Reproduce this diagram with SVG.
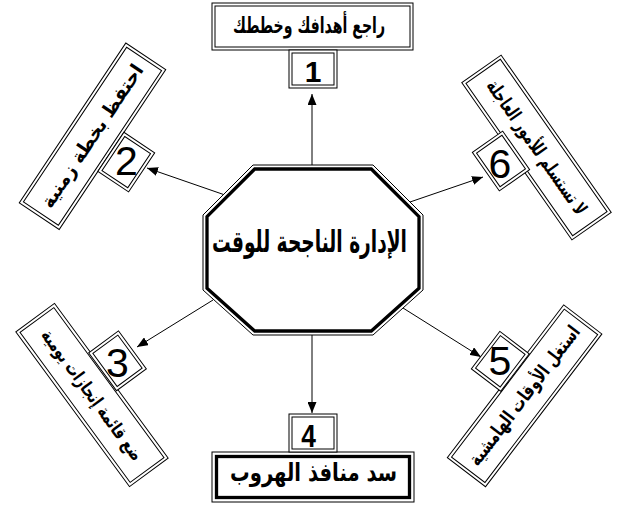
<svg xmlns="http://www.w3.org/2000/svg" width="626" height="522" viewBox="0 0 626 522">
<style>
.b{fill:#fff;stroke:#000;stroke-width:1}
.i{fill:none;stroke:#000;stroke-width:1}
.t{fill:none;stroke:#000;stroke-width:3.3}
.ar{font-family:"DejaVu Sans",sans-serif;font-weight:bold;fill:#000;text-anchor:middle}
.dg{font-family:"Liberation Sans",Arial,sans-serif;fill:#000;text-anchor:middle}
.c line{stroke:#000;stroke-width:1;fill:none}
</style>
<defs>
<marker id="ah" markerWidth="11" markerHeight="9" refX="11" refY="4.5" orient="auto" markerUnits="userSpaceOnUse"><path d="M0,0L11,4.5L0,9z" fill="#000"/></marker>
</defs>
<rect width="626" height="522" fill="#fff"/>
<g id="connectors" class="c">
<line x1="312" y1="165" x2="312" y2="94" marker-end="url(#ah)"/>
<line x1="312" y1="335" x2="312" y2="413" marker-end="url(#ah)"/>
<line x1="225" y1="195" x2="147" y2="168" marker-end="url(#ah)"/>
<line x1="410" y1="202" x2="483" y2="177" marker-end="url(#ah)"/>
<line x1="213" y1="300" x2="137" y2="347" marker-end="url(#ah)"/>
<line x1="403" y1="308" x2="481" y2="357" marker-end="url(#ah)"/>
</g>
<g id="center">
<polygon points="253,165 373,165 423,215 423,290 373,335 253,335 203,290 203,215" class="b"/>
<polygon points="254.7,169 371.3,169 419,216.7 419,288.3 371.3,331 254.7,331 207,288.3 207,216.7" class="t"/>
<text class="ar" x="309.5" y="252" font-size="30" textLength="195" lengthAdjust="spacingAndGlyphs">الإدارة الناجحة للوقت</text>
</g>
<g id="n1">
<rect x="212" y="3" width="201" height="47" class="b"/>
<rect x="215" y="6" width="195" height="41" class="i"/>
<text class="ar" x="309" y="33" font-size="22" textLength="152" lengthAdjust="spacingAndGlyphs">راجع أهدافك وخططك</text>
<rect x="289" y="50" width="48" height="38" class="b"/>
<rect x="292" y="53" width="42" height="32" class="i"/>
<text class="dg" x="313" y="82" font-size="30" font-weight="bold">1</text>
</g>
<g id="n4">
<rect x="212" y="452" width="202" height="50" class="b"/>
<rect x="216.5" y="456.5" width="193" height="41" class="t"/>
<text class="ar" x="313.5" y="481" font-size="25" textLength="167" lengthAdjust="spacingAndGlyphs">سد منافذ الهروب</text>
<rect x="289" y="414" width="48" height="38" class="b"/>
<rect x="292" y="417" width="42" height="32" class="i"/>
<text class="dg" font-size="31" font-weight="bold" transform="translate(308.5,446.7) scale(0.85,1)">4</text>
</g>
<g id="n2">
<g transform="translate(92.5,136.25) rotate(-56.3)">
<rect x="-96" y="-24" width="192" height="48" class="b"/>
<rect x="-93" y="-21" width="186" height="42" class="i"/>
<text class="ar" x="0" y="6" font-size="19" textLength="168" lengthAdjust="spacingAndGlyphs">احتفظ بخطة زمنية</text>
</g>
<g transform="translate(126.25,162.1) rotate(-56.3)">
<rect x="-23.5" y="-18.5" width="47" height="37" class="b"/>
<rect x="-20.5" y="-15.5" width="41" height="31" class="i"/>
</g>
<text class="dg" x="126.5" y="175" font-size="41">2</text>
</g>
<g id="n6">
<g transform="translate(536.5,147.5) rotate(55)">
<rect x="-96" y="-24" width="192" height="48" class="b"/>
<rect x="-93" y="-21" width="186" height="42" class="i"/>
<text class="ar" x="0" y="6" font-size="19" textLength="160" lengthAdjust="spacingAndGlyphs">لا تستسلم للأمور العاجلة</text>
</g>
<g transform="translate(501,161) rotate(55)">
<rect x="-23.5" y="-18.5" width="47" height="37" class="b"/>
<rect x="-20.5" y="-15.5" width="41" height="31" class="i"/>
</g>
<text class="dg" x="500" y="178" font-size="41">6</text>
</g>
<g id="n3">
<g transform="translate(92,395) rotate(53.7)">
<rect x="-96" y="-24" width="192" height="48" class="b"/>
<rect x="-93" y="-21" width="186" height="42" class="i"/>
<text class="ar" x="0" y="6" font-size="18" font-weight="normal" textLength="158" lengthAdjust="spacingAndGlyphs">ضع قائمة إنجازات يومية</text>
</g>
<g transform="translate(117.5,360.8) rotate(53.7)">
<rect x="-23.5" y="-18.5" width="47" height="37" class="b"/>
<rect x="-20.5" y="-15.5" width="41" height="31" class="i"/>
</g>
<text class="dg" x="117.5" y="376.7" font-size="41">3</text>
</g>
<g id="n5">
<g transform="translate(524.6,395.8) rotate(-52.7)">
<rect x="-96" y="-24" width="192" height="48" class="b"/>
<rect x="-93" y="-21" width="186" height="42" class="i"/>
<text class="ar" x="0" y="6" font-size="19" textLength="170" lengthAdjust="spacingAndGlyphs">استغل الأوقات الهامشية</text>
</g>
<g transform="translate(500.3,361.3) rotate(-52.7)">
<rect x="-23.5" y="-18.5" width="47" height="37" class="b"/>
<rect x="-20.5" y="-15.5" width="41" height="31" class="i"/>
</g>
<text class="dg" x="500" y="375" font-size="41">5</text>
</g>
</svg>
